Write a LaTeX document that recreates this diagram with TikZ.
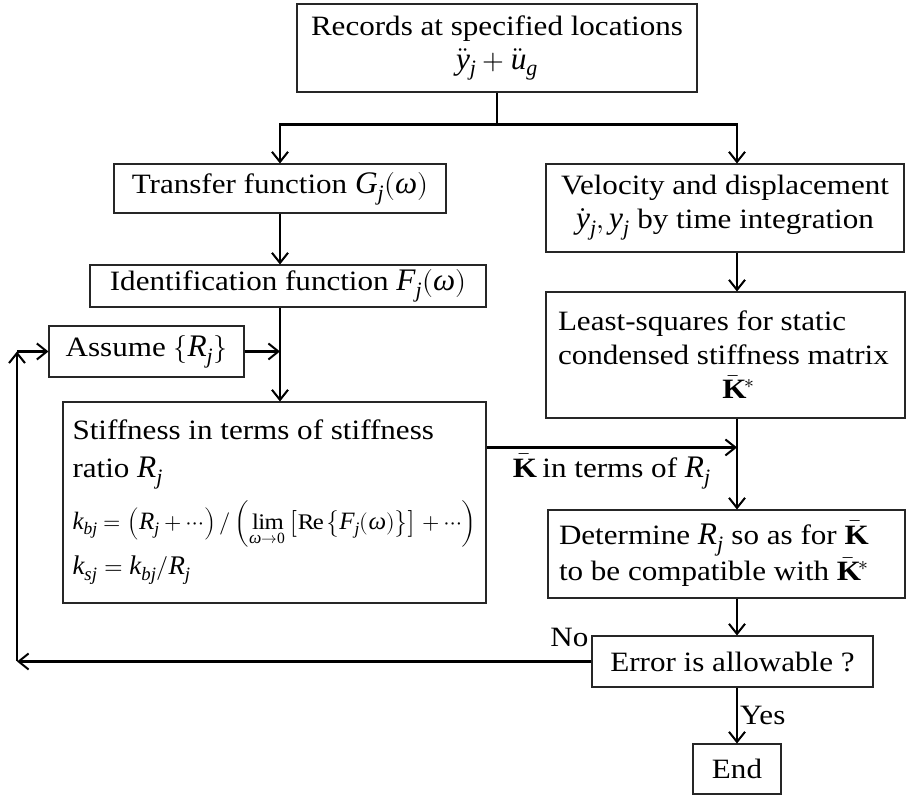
\documentclass[tikz,border=0pt]{standalone}
\usepackage{graphicx}
\usepackage{unicode-math}
\setmainfont{Liberation Serif}[FakeStretch=1.11]
\setmathfont{Latin Modern Math}
\setmathfont{Liberation Serif Italic}[range=it/{latin,Latin,greek,Greek},Scale=1.12]
\setmathfont{Liberation Serif Bold}[range=bfup/{latin,Latin},Scale=1.12]
\setmathfont{Liberation Serif}[range=up/{num,latin,Latin}]
\usetikzlibrary{arrows.meta}

\newcommand{\barK}{\bar{\mathbf{K}}}

\begin{document}
\begin{tikzpicture}[x=1pt,y=-1pt,
	box/.style={draw=black!85, line width=1.1pt, inner sep=0pt, align=center, font=\fontsize{28}{34}\selectfont},
	arr/.style={line width=2.3pt, -{Straight Barb[length=10pt,width=16pt,line width=2pt]}},
	lbl/.style={font=\fontsize{28}{34}\selectfont, inner sep=2pt}]

	\useasboundingbox (0,0) rectangle (906,799);

	% boxes
	\node[box, minimum width=400pt, minimum height=88pt] (rec) at (497,48) {Records at specified locations\\ $\ddot{y}_j+\ddot{u}_g$};
	\node[box, minimum width=332pt, minimum height=49pt] (tf) at (280,188.5) {Transfer function $G_j(\omega)$};
	\node[box, minimum width=396pt, minimum height=42pt] (idf) at (288,286) {Identification function $F_j(\omega)$};
	\node[box, minimum width=195pt, minimum height=51pt] (asm) at (146.5,351.5) {Assume $\{R_j\}$};
	\node[box, minimum width=423pt, minimum height=201pt, text width=404pt, align=flush left] (stf) at (274.5,502.5)
		{Stiffness in terms of stiffness\\[4pt] ratio~$R_j$\\[10pt]
		 {\fontsize{24}{28}\selectfont\resizebox{404pt}{!}{$k_{bj}=\left(R_j+\cdots\right)/\left(\lim\limits_{\omega\to0}\left[\mathrm{Re}\left\{F_j(\omega)\right\}\right]+\cdots\right)$}}\\[8pt]
		 {\fontsize{24}{28}\selectfont$k_{sj}=k_{bj}/R_j$}};
	\node[box, minimum width=358pt, minimum height=88pt] (vel) at (725,208) {Velocity and displacement\\ $\dot{y}_j, y_j$ by time integration};
	\node[box, minimum width=359pt, minimum height=126pt, text width=335pt, align=flush left] (lsq) at (725.5,355)
		{Least-squares for static\\ condensed stiffness matrix\\ \makebox[\linewidth]{\hspace*{26pt}$\barK^*$}};
	\node[box, minimum width=357pt, minimum height=88pt, text width=335pt, align=flush left] (det) at (726.5,554)
		{Determine $R_j$ so as for $\barK$\\ to be compatible with $\barK^*$};
	\node[box, minimum width=281pt, minimum height=51pt] (err) at (732.5,661.5) {Error is allowable ?};
	\node[box, minimum width=88pt, minimum height=50pt] (end) at (737,769) {End};

	% connectors
	\coordinate (sp) at (737,0);
	\coordinate (fb) at (17,0);
	\draw[line width=2.3pt] (rec.south) -- ++(0,32) coordinate (jn);
	\draw[arr] (jn) -| (tf.north);
	\draw[arr] (jn) -| (vel.north -| sp);
	\draw[arr] (tf.south) -- (tf.south |- idf.north);
	\draw[arr] (idf.south -| tf.south) -- (stf.north -| tf.south);
	\draw[arr] (asm.east) -- (asm.east -| tf.south);
	\draw[arr] (vel.south -| sp) -- (lsq.north -| sp);
	\draw[arr] ([yshift=-46pt]stf.north east) -- node[lbl, below=3pt] {$\barK$ in terms of $R_j$} ([yshift=-46pt]stf.north east -| sp);
	\draw[arr] (lsq.south -| sp) -- (det.north -| sp);
	\draw[arr] (det.south -| sp) -- (err.north -| sp);
	\draw[arr] (err.south -| sp) -- node[lbl, right] {Yes} (end.north);
	\draw[arr] (err.west) -- node[lbl, at start, anchor=south east, yshift=12pt] {No} (fb |- err.west);
	\draw[arr] (fb |- err.west) -- (fb |- asm.west);
	\draw[arr] (fb |- asm.west) -- (asm.west);
\end{tikzpicture}
\end{document}
